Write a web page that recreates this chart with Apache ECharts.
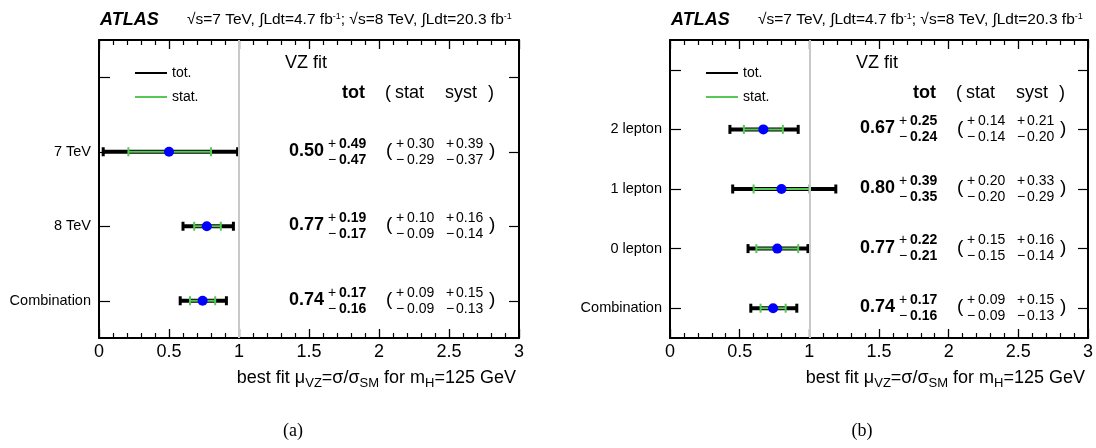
<!DOCTYPE html>
<html>
<head>
<meta charset="utf-8">
<script src="https://cdn.jsdelivr.net/npm/echarts@6/dist/echarts.min.js"></script>
<style>
html,body{margin:0;padding:0;background:#fff;}
#c{width:1096px;height:448px;}
</style>
</head>
<body>
<div id="c"></div>
<script>
// ---------- data : panel (a) ----------
const catsA = ['Combination', '8 TeV', '7 TeV', ''];
const muA = [0.74, 0.77, 0.50];
const totUpA = [0.17, 0.19, 0.49];
const totDnA = [0.16, 0.17, 0.47];
const statUpA = [0.09, 0.10, 0.30];
const statDnA = [0.09, 0.09, 0.29];
const systUpA = [0.15, 0.16, 0.39];
const systDnA = [0.13, 0.14, 0.37];

// ---------- data : panel (b) ----------
const catsB = ['Combination', '0 lepton', '1 lepton', '2 lepton', ''];
const muB = [0.74, 0.77, 0.80, 0.67];
const totUpB = [0.17, 0.22, 0.39, 0.25];
const totDnB = [0.16, 0.21, 0.35, 0.24];
const statUpB = [0.09, 0.15, 0.20, 0.14];
const statDnB = [0.09, 0.15, 0.20, 0.14];
const systUpB = [0.15, 0.16, 0.33, 0.21];
const systDnB = [0.13, 0.14, 0.29, 0.20];

const xTicks = [0, 0.5, 1, 1.5, 2, 2.5, 3];
const smRef = 1;

const FONT = 'Liberation Sans';
const GREEN = '#55c855';

function rowsOf(mu, tDn, tUp, sDn, sUp, yDn, yUp) {
  return mu.map((m, i) => [i, m, tDn[i], tUp[i], sDn[i], sUp[i], yDn[i], yUp[i]]);
}

function txt(x, y, s, size, bold, align) {
  return {type: 'text', x: x, y: y, silent: true,
    style: {text: s, fontSize: size, fontWeight: bold ? 'bold' : 'normal', fontFamily: FONT,
      fill: '#000', align: align || 'left', verticalAlign: 'middle'}};
}
function seg(x1, y1, x2, y2, stroke, w) {
  return {type: 'line', silent: true, shape: {x1, y1, x2, y2}, style: {stroke: stroke, lineWidth: w}};
}

function renderRow(params, api) {
  const i = api.value(0), mu = api.value(1);
  const tDn = api.value(2), tUp = api.value(3), sDn = api.value(4), sUp = api.value(5);
  const yDn = api.value(6), yUp = api.value(7);
  const y = api.coord([mu, i])[1];
  const tL = api.coord([mu - tDn, i])[0], tR = api.coord([mu + tUp, i])[0];
  const sL = api.coord([mu - sDn, i])[0], sR = api.coord([mu + sUp, i])[0];
  const gx = params.coordSys.x;
  const f = v => v.toFixed(2);
  const ch = [
    seg(tL, y, tR, y, '#000', 4),
    seg(tL, y - 4.5, tL, y + 4.5, '#000', 3),
    seg(tR, y - 4.5, tR, y + 4.5, '#000', 3),
    seg(sL, y, sR, y, GREEN, 2),
    seg(sL, y - 4.5, sL, y + 4.5, GREEN, 2),
    seg(sR, y - 4.5, sR, y + 4.5, GREEN, 2),
    txt(gx + 190, y - 1, f(mu), 18, true),
    txt(gx + 229, y - 8, '+', 14, false),
    txt(gx + 240, y - 8, f(tUp), 14, true),
    txt(gx + 229, y + 8, '\u2212', 14, false),
    txt(gx + 240, y + 8, f(tDn), 14, true),
    txt(gx + 287, y - 1, '(', 19, false),
    txt(gx + 297, y - 8, '+', 14, false),
    txt(gx + 308, y - 8, f(sUp), 14, false),
    txt(gx + 297, y + 8, '\u2212', 14, false),
    txt(gx + 308, y + 8, f(sDn), 14, false),
    txt(gx + 347, y - 8, '+', 14, false),
    txt(gx + 357, y - 8, f(yUp), 14, false),
    txt(gx + 347, y + 8, '\u2212', 14, false),
    txt(gx + 357, y + 8, f(yDn), 14, false),
    txt(gx + 390, y - 1, ')', 19, false)
  ];
  return {type: 'group', children: ch};
}

function xAxes(g) {
  const mk = (pos) => ({
    type: 'value', gridIndex: g, position: pos,
    min: xTicks[0], max: xTicks[xTicks.length - 1], interval: 0.5,
    axisLine: {show: true, onZero: false, lineStyle: {color: '#000', width: 2}},
    axisTick: {show: true, inside: true, length: 9, lineStyle: {color: '#000', width: 1.3}},
    minorTick: {show: true, splitNumber: 5, length: 5, lineStyle: {color: '#000', width: 1.2}},
    splitLine: {show: false}, minorSplitLine: {show: false},
    axisLabel: pos === 'bottom'
      ? {show: true, fontSize: 18, color: '#000', fontFamily: FONT, margin: 5}
      : {show: false}
  });
  return [mk('bottom'), mk('top')];
}

function yAxes(g, cats) {
  const mk = (pos) => ({
    type: 'category', gridIndex: g, data: cats, position: pos,
    axisLine: {show: true, onZero: false, lineStyle: {color: '#000', width: 2}},
    axisTick: {show: true, inside: true, length: pos === 'left' ? 11 : 10, alignWithLabel: true, interval: 0,
      lineStyle: {color: '#000', width: 1.2}},
    axisLabel: pos === 'left'
      ? {show: true, fontSize: 14.5, color: '#000', fontFamily: FONT, margin: 8, interval: 0}
      : {show: false},
    splitLine: {show: false}
  });
  return [mk('left'), mk('right')];
}

const GL = [99, 670];
const GW = [420, 418];

function headerGraphics(gx, gw) {
  return [
    {type: 'text', x: gx + 1, y: 20, style: {text: 'ATLAS', fontSize: 18, fontWeight: 'bold', fontStyle: 'italic', fontFamily: FONT, fill: '#000', verticalAlign: 'middle'}},
    {type: 'text', x: gx + 88, y: 20, style: {
      text: '\u221as=7 TeV, \u222bLdt=4.7 fb{sup|-1}; \u221as=8 TeV, \u222bLdt=20.3 fb{sup|-1}',
      fontSize: 15.5, fontFamily: FONT, fill: '#000', verticalAlign: 'middle',
      rich: {sup: {fontSize: 9, fontFamily: FONT, fill: '#000', verticalAlign: 'top', padding: [0, 0, 7, 0]}}}},
    {type: 'text', x: gx + 186, y: 63, style: {text: 'VZ fit', fontSize: 18, fontFamily: FONT, fill: '#000', verticalAlign: 'middle'}},
    {type: 'text', x: gx + 243, y: 93, style: {text: 'tot', fontSize: 18, fontWeight: 'bold', fontFamily: FONT, fill: '#000', verticalAlign: 'middle'}},
    {type: 'text', x: gx + 286, y: 93, style: {text: '(', fontSize: 18, fontFamily: FONT, fill: '#000', verticalAlign: 'middle'}},
    {type: 'text', x: gx + 296, y: 93, style: {text: 'stat', fontSize: 18, fontFamily: FONT, fill: '#000', verticalAlign: 'middle'}},
    {type: 'text', x: gx + 346, y: 93, style: {text: 'syst', fontSize: 18, fontFamily: FONT, fill: '#000', verticalAlign: 'middle'}},
    {type: 'text', x: gx + 389, y: 93, style: {text: ')', fontSize: 18, fontFamily: FONT, fill: '#000', verticalAlign: 'middle'}},
    {type: 'line', shape: {x1: gx + 36, y1: 73, x2: gx + 68, y2: 73}, style: {stroke: '#000', lineWidth: 2}},
    {type: 'text', x: gx + 73, y: 73, style: {text: 'tot.', fontSize: 14, fontFamily: FONT, fill: '#000', verticalAlign: 'middle'}},
    {type: 'line', shape: {x1: gx + 36, y1: 97, x2: gx + 68, y2: 97}, style: {stroke: GREEN, lineWidth: 2}},
    {type: 'text', x: gx + 73, y: 97, style: {text: 'stat.', fontSize: 14, fontFamily: FONT, fill: '#000', verticalAlign: 'middle'}},
    {type: 'text', x: gx + gw - 3, y: 378, style: {
      text: 'best fit \u03bc{sub|VZ}=\u03c3/\u03c3{sub|SM} for m{sub|H}=125 GeV',
      fontSize: 18, fontFamily: FONT, fill: '#000', align: 'right', verticalAlign: 'middle',
      rich: {sub: {fontSize: 13, fontFamily: FONT, fill: '#000', verticalAlign: 'bottom', padding: [10, 0, 0, 0]}}}}
  ];
}

const graphics = headerGraphics(GL[0], GW[0]).concat(headerGraphics(GL[1], GW[1])).concat([
  {type: 'text', x: 293, y: 431, style: {text: '(a)', fontSize: 18, fontFamily: 'Liberation Serif', fill: '#000', align: 'center', verticalAlign: 'middle'}},
  {type: 'text', x: 862, y: 431, style: {text: '(b)', fontSize: 18, fontFamily: 'Liberation Serif', fill: '#000', align: 'center', verticalAlign: 'middle'}}
]);

function panelSeries(g, mu, tDn, tUp, sDn, sUp, yDn, yUp) {
  const xi = g * 2, yi = g * 2;
  return [
    {type: 'line', xAxisIndex: xi, yAxisIndex: yi, data: [], z: 1, silent: true,
      markLine: {silent: true, symbol: ['none', 'none'], label: {show: false},
        lineStyle: {color: '#c8c8c8', width: 2, type: 'solid'}, data: [{xAxis: smRef}]}},
    {type: 'custom', xAxisIndex: xi, yAxisIndex: yi, z: 3, renderItem: renderRow,
      data: rowsOf(mu, tDn, tUp, sDn, sUp, yDn, yUp), encode: {x: 1, y: 0}},
    {type: 'scatter', xAxisIndex: xi, yAxisIndex: yi, z: 4, symbol: 'circle', symbolSize: 10,
      itemStyle: {color: '#0000ff', opacity: 1}, silent: true,
      data: mu.map((m, i) => [m, i])}
  ];
}

const chart = echarts.init(document.getElementById('c'), null, {renderer: 'canvas'});
chart.setOption({
  animation: false,
  backgroundColor: '#fff',
  grid: [
    {left: GL[0], width: GW[0], top: 40, bottom: 110, outerBoundsMode: 'none', containLabel: false},
    {left: GL[1], width: GW[1], top: 40, bottom: 110, outerBoundsMode: 'none', containLabel: false}
  ],
  xAxis: xAxes(0).concat(xAxes(1)),
  yAxis: yAxes(0, catsA).concat(yAxes(1, catsB)),
  series: panelSeries(0, muA, totDnA, totUpA, statDnA, statUpA, systDnA, systUpA)
    .concat(panelSeries(1, muB, totDnB, totUpB, statDnB, statUpB, systDnB, systUpB)),
  graphic: graphics
});
</script>
</body>
</html>
